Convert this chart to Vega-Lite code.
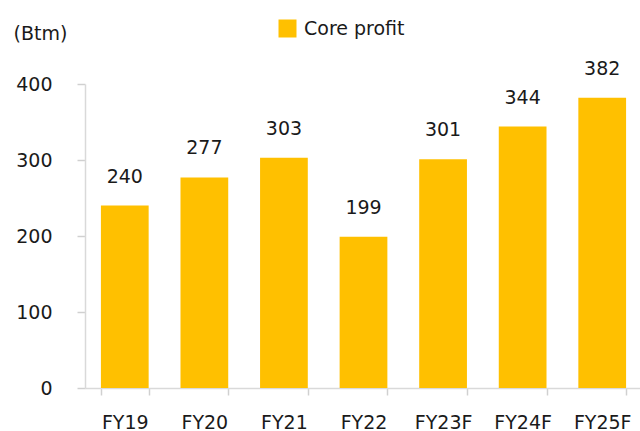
{
  "$schema": "https://vega.github.io/schema/vega-lite/v6.json",
  "autosize": "none",
  "padding": {"left": 85, "top": 84, "right": 0, "bottom": 43},
  "width": 557,
  "height": 304,
  "background": "white",
  "config": {
    "view": {"stroke": null},
    "font": "DejaVu Sans"
  },
  "data": {
    "values": [
      {"year": "FY19", "value": 240, "series": "Core profit"},
      {"year": "FY20", "value": 277, "series": "Core profit"},
      {"year": "FY21", "value": 303, "series": "Core profit"},
      {"year": "FY22", "value": 199, "series": "Core profit"},
      {"year": "FY23F", "value": 301, "series": "Core profit"},
      {"year": "FY24F", "value": 344, "series": "Core profit"},
      {"year": "FY25F", "value": 382, "series": "Core profit"}
    ]
  },
  "encoding": {
    "x": {
      "field": "year",
      "type": "nominal",
      "sort": null,
      "scale": {"paddingInner": 0.4, "paddingOuter": 0.2},
      "axis": {
        "title": null,
        "labelAngle": 0,
        "labelFontSize": 19,
        "labelColor": "#1a1a1a",
        "labelPadding": 18,
        "tickBand": "extent",
        "tickSize": 7,
        "tickColor": "#d0d0d0",
        "tickWidth": 1.5,
        "domainColor": "#d9d9d9",
        "domainWidth": 1.5
      }
    },
    "y": {
      "field": "value",
      "type": "quantitative",
      "scale": {"domain": [0, 400], "nice": false},
      "axis": {
        "title": "(Btm)",
        "titleAngle": 0,
        "titleAlign": "left",
        "titleBaseline": "alphabetic",
        "titleX": -72,
        "titleY": -45,
        "titleFontSize": 19,
        "titleFontWeight": "normal",
        "titleColor": "#1a1a1a",
        "values": [0, 100, 200, 300, 400],
        "grid": false,
        "labelFontSize": 19,
        "labelColor": "#1a1a1a",
        "labelPadding": 25,
        "tickSize": 8,
        "tickColor": "#d0d0d0",
        "tickWidth": 1.5,
        "domainColor": "#d9d9d9",
        "domainWidth": 1.5
      }
    }
  },
  "layer": [
    {
      "mark": {"type": "bar"},
      "encoding": {
        "color": {
          "field": "series",
          "type": "nominal",
          "scale": {"range": ["#FFC000"]},
          "legend": {
            "title": null,
            "orient": "none",
            "legendX": 193,
            "legendY": -65,
            "padding": 0,
            "symbolType": "square",
            "symbolSize": 324,
            "symbolStrokeWidth": 0,
            "symbolOpacity": 1,
            "labelFontSize": 19,
            "labelColor": "#1a1a1a",
            "labelOffset": 7
          }
        }
      }
    },
    {
      "mark": {"type": "text", "fontSize": 19, "color": "#1a1a1a", "baseline": "alphabetic", "dy": -23},
      "encoding": {
        "text": {"field": "value", "type": "quantitative"}
      }
    }
  ]
}
